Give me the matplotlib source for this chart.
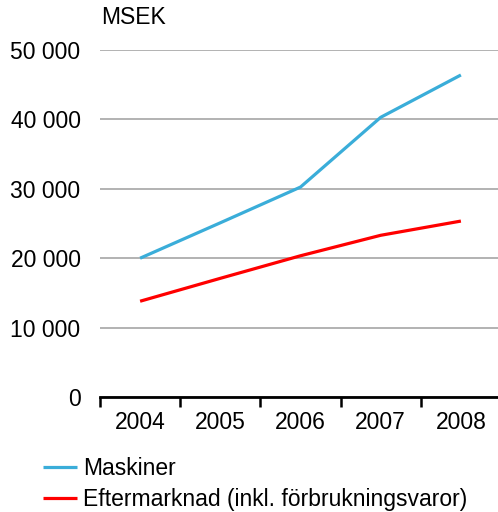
import matplotlib
matplotlib.use("Agg")
import matplotlib.pyplot as plt

years = ["2004", "2005", "2006", "2007", "2008"]
maskiner = [20000, 25100, 30250, 40300, 46400]
eftermarknad = [13800, 17100, 20350, 23300, 25350]
yticks = [0, 10000, 20000, 30000, 40000, 50000]
ytick_labels = ["0", "10 000", "20 000", "30 000", "40 000", "50 000"]

plt.rcParams['font.family'] = ['Liberation Sans', 'DejaVu Sans']
FS = 16.5

W, H = 498, 512
fig = plt.figure(figsize=(W / 100, H / 100), dpi=100)
ax = fig.add_axes([100 / W, 115 / H, 401 / W, 347 / H])

x = list(range(len(years)))
ax.plot(x, maskiner, color="#3AADD9", lw=2.3, label="Maskiner", solid_capstyle="butt")
ax.plot(x, eftermarknad, color="#FF0000", lw=2.3, label="Eftermarknad (inkl. förbrukningsvaror)", solid_capstyle="butt")

ax.set_xlim(-0.5, len(years) - 0.5)
ax.set_ylim(0, 50000)
ax.set_yticks(yticks)
ax.set_yticklabels(ytick_labels, fontsize=FS)
ax.yaxis.grid(True, color="#A6A6A6", lw=1.2)
ax.set_axisbelow(True)
ax.tick_params(axis="y", length=0, pad=14)

ax.set_xticks([i - 0.5 for i in range(len(years) + 1)])
ax.set_xticklabels([])
ax.set_xticks(x, minor=True)
ax.set_xticklabels(years, minor=True, fontsize=FS)
ax.tick_params(axis="x", which="major", length=7, width=1.8, color="black", direction="out")
ax.tick_params(axis="x", which="minor", length=0, pad=10)

for s in ["top", "right", "left"]:
    ax.spines[s].set_visible(False)
ax.spines["bottom"].set_linewidth(2)
ax.spines["bottom"].set_color("black")

fig.text(101 / W, 1 - 17 / H, "MSEK", fontsize=FS, va="center", ha="left")

leg = fig.legend(loc="upper left", bbox_to_anchor=(36 / W, 1 - 450 / H), frameon=False,
                 fontsize=FS, handlelength=1.5, handletextpad=0.27, labelspacing=0.35,
                 borderaxespad=0, borderpad=0.3)

fig.savefig("out.png", dpi=100)
